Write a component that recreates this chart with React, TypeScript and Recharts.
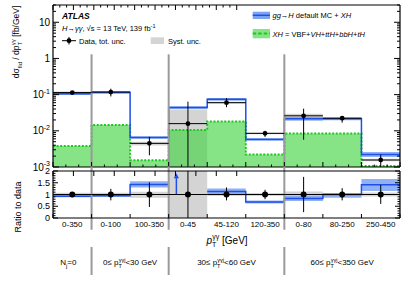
import { ComposedChart, Line, Area, Scatter, ErrorBar, XAxis, YAxis, ReferenceLine } from 'recharts'

const FONT = '"Liberation Sans", Arial, Helvetica, sans-serif'
const BLUE = '#1f4fe6'
const BLUE_BAND = '#7ea3f5'
const GREEN_FILL = 'rgba(60, 210, 60, 0.62)'
const GREEN_LINE = '#1ec81e'
const GREY = '#d4d4d4'
const SEP = '#9a9a9a'

// bins of pT(yy), grouped by jet category
const BIN_LABELS = ['0-350', '0-100', '100-350', '0-45', '45-120', '120-350', '0-80', '80-250', '250-450']
const GROUP_EDGES = [1, 3, 6]
const GROUP_CENTERS = [0.5, 2, 4.5, 7.5]
const GROUP_LOW = ['0', '30', '60']
const GROUP_HIGH = ['30', '60', '350']

// top panel [fb/GeV]
const DATA_XS = [0.114, 0.118, 0.0045, 0.0158, 0.06, 0.0085, 0.026, 0.0223, 0.00156]
const DATA_LO = [0.105, 0.089, 0.0021, 0.00101, 0.045, 0.0068, 0.0057, 0.0168, 0.00101]
const DATA_HI = [0.124, 0.146, 0.0068, 0.064, 0.08, 0.01, 0.041, 0.0257, 0.0022]
const SYST_LO = [0.106, 0.11, 0.0039, 0.001, 0.056, 0.008, 0.0224, 0.0212, 0.00144]
const SYST_HI = [0.122, 0.126, 0.005, 0.039, 0.064, 0.009, 0.0294, 0.0234, 0.00168]
const MC_XS = [0.105, 0.114, 0.0065, 0.044, 0.074, 0.0058, 0.0214, 0.0214, 0.0022]
const MC_LO = [0.098, 0.107, 0.006, 0.04, 0.068, 0.0054, 0.019, 0.0195, 0.0019]
const MC_HI = [0.112, 0.121, 0.0071, 0.048, 0.081, 0.0063, 0.024, 0.0232, 0.0026]
const XH_XS = [0.0038, 0.0145, 0.00153, 0.0105, 0.018, 0.0022, 0.0084, 0.0084, 0.00107]

// ratio panel (MC / data); bin 4 is off scale (~2.8)
const R_MC = [0.93, 0.95, 1.43, null, 1.13, 0.68, 0.83, 1.0, 1.41]
const R_MC_LO = [0.88, 0.9, 1.3, null, 1.0, 0.62, 0.72, 0.86, 1.15]
const R_MC_HI = [0.98, 1.0, 1.56, null, 1.26, 0.74, 0.95, 1.06, 1.66]
const R_SYST_LO = [0.93, 0.93, 0.86, 0, 0.94, 0.94, 0.87, 0.95, 0.92]
const R_SYST_HI = [1.07, 1.07, 1.12, 2, 1.06, 1.06, 1.13, 1.05, 1.08]
const R_TOT_LO = [0.92, 0.75, 0.47, 0, 0.75, 0.8, 0.25, 0.75, 0.6]
const R_TOT_HI = [1.08, 1.24, 1.52, 2, 1.3, 1.2, 1.75, 1.27, 1.41]
const ARROW_X = 3.2
const ARROW_TOP = 1.9

const Y_MIN = 0.001
const Y_MAX = 30
const SEP_TOP = 1.3

const LOG_TICKS: number[] = []
for (let e = -3; e <= 1; e++) for (let m = 1; m <= 9; m++) if (m * 10 ** e <= Y_MAX) LOG_TICKS.push(m * 10 ** e)
const X_MINOR_TICKS = Array.from({ length: 28 }, (_, k) => k / 3)
const X_EDGE_TICKS = Array.from({ length: 10 }, (_, k) => k)
const X_RATIO_TICKS = [...X_EDGE_TICKS, ...BIN_LABELS.map((_, i) => i + 0.5)]
const R_TICKS = Array.from({ length: 21 }, (_, k) => k / 10)

const topRows = BIN_LABELS.flatMap((_, i) =>
  [i, i + 1].map((x) => ({
    x,
    mc: MC_XS[i],
    mcBand: [MC_LO[i], MC_HI[i]],
    xh: XH_XS[i],
    syst: [SYST_LO[i], SYST_HI[i]],
  }))
)
const topPoints = BIN_LABELS.map((_, i) => ({
  x: i + 0.5,
  y: DATA_XS[i],
  ex: 0.5,
  ey: [DATA_XS[i] - DATA_LO[i], DATA_HI[i] - DATA_XS[i]],
}))
const ratioRows = BIN_LABELS.flatMap((_, i) =>
  [i, i + 1].map((x) => ({
    x,
    rmc: R_MC[i],
    rBand: R_MC[i] == null ? [null, null] : [R_MC_LO[i], R_MC_HI[i]],
    rSyst: [R_SYST_LO[i], R_SYST_HI[i]],
  }))
)
const ratioPoints = BIN_LABELS.map((_, i) => ({
  x: i + 0.5,
  y: 1,
  ex: 0.5,
  ey: [1 - R_TOT_LO[i], R_TOT_HI[i] - 1],
}))

const isInt = (v: number) => Math.abs(v - Math.round(v)) < 1e-6
const frame = { stroke: '#000', strokeWidth: 1.2 }

function XTick({ x, y, payload, dir }: any) {
  const len = isInt(payload.value) ? 5 : 2.5
  return <line x1={x} x2={x} y1={y} y2={y + dir * len} stroke="#000" />
}

function LogTick({ x, y, payload, side }: any) {
  const e = Math.log10(payload.value)
  const major = isInt(e)
  const exp = Math.round(e)
  const dx = side === 'left' ? 1 : -1
  return (
    <g>
      <line x1={x} x2={x + dx * (major ? 6 : 3)} y1={y} y2={y} stroke="#000" />
      {major && side === 'left' && (
        <text x={x - 3} y={y + 3.5} textAnchor="end" fontSize={10} fill="#000">
          {exp === 0 ? '1' : exp === 1 ? '10' : (
            <>
              10<tspan dy={-4.5} fontSize={7}>{exp}</tspan>
            </>
          )}
        </text>
      )}
    </g>
  )
}

function RatioYTick({ x, y, payload, side }: any) {
  const v = payload.value
  const major = isInt(v * 2)
  const dx = side === 'left' ? 1 : -1
  return (
    <g>
      <line x1={x} x2={x + dx * (major ? 5 : 2.5)} y1={y} y2={y} stroke="#000" />
      {major && side === 'left' && (
        <text x={x - 3} y={y + 3.2} textAnchor="end" fontSize={9} fill="#000">
          {String(v)}
        </text>
      )}
    </g>
  )
}

function RatioXTick({ x, y, payload }: any) {
  const v = payload.value
  if (isInt(v)) return <line x1={x} x2={x} y1={y} y2={y - 4} stroke="#000" />
  return (
    <text x={x} y={y + 9} textAnchor="middle" fontSize={8} fill="#000">
      {BIN_LABELS[Math.floor(v)]}
    </text>
  )
}

function GroupTick({ x, y, index }: any) {
  if (index === 0) {
    return (
      <text x={x - 4} y={y - 10} textAnchor="middle" fontSize={8} fill="#000">
        N<tspan dy={2.5} fontSize={6}>j</tspan>
        <tspan dy={-2.5}>=0</tspan>
      </text>
    )
  }
  return (
    <text x={x} y={y - 10} textAnchor="middle" fontSize={8} fill="#000">
      {GROUP_LOW[index - 1]}≤ p<tspan dy={2.5} fontSize={5.5}>T</tspan>
      <tspan dx={-3.2} dy={-6} fontSize={5.5}>γγj</tspan>
      <tspan dy={3.5}>{'<' + GROUP_HIGH[index - 1] + ' GeV'}</tspan>
    </text>
  )
}

function ArrowShape({ x1, y1, x2, y2 }: any) {
  return (
    <g>
      <line x1={x1} y1={y1} x2={x2} y2={y2 + 4} stroke={BLUE} strokeWidth={1.5} />
      <path d={`M${x2 - 2.6},${y2 + 5} L${x2},${y2} L${x2 + 2.6},${y2 + 5} Z`} fill={BLUE} />
    </g>
  )
}

const Dot = (r: number) => (p: any) => <circle cx={p.cx} cy={p.cy} r={r} fill="#000" />

// shared props for the thin frame axes (height/width 1 so they still render)
const edgeAxis = { type: 'number' as const, allowDataOverflow: true, interval: 0, tickSize: 0, tickMargin: 0, tickLine: false }

export default function App() {
  return (
    <div style={{ position: 'absolute', left: 0, top: 0, width: 415, height: 281, background: '#fff', fontFamily: FONT }}>
      <div style={{ position: 'absolute', left: 0, top: 0 }}>
        <ComposedChart width={415} height={172} data={topRows} margin={{ top: 4, right: 14, bottom: 4, left: 0 }}>
          <XAxis {...edgeAxis} dataKey="x" domain={[0, 9]} height={1} ticks={X_MINOR_TICKS} axisLine={frame}
            tick={(p: any) => <XTick {...p} dir={-1} />} />
          <XAxis {...edgeAxis} xAxisId="top" orientation="top" domain={[0, 9]} height={1} ticks={X_MINOR_TICKS} axisLine={frame}
            tick={(p: any) => <XTick {...p} dir={1} />} />
          <YAxis {...edgeAxis} scale="log" domain={[Y_MIN, Y_MAX]} width={53} ticks={LOG_TICKS} axisLine={frame}
            tick={(p: any) => <LogTick {...p} side="left" />} />
          <YAxis {...edgeAxis} yAxisId="r" orientation="right" scale="log" domain={[Y_MIN, Y_MAX]} width={1} ticks={LOG_TICKS}
            axisLine={frame} tick={(p: any) => <LogTick {...p} side="right" />} />
          <Area dataKey="syst" type="linear" fill={GREY} fillOpacity={1} stroke="none" isAnimationActive={false} />
          <Area dataKey="xh" type="linear" baseValue={Y_MIN} fill={GREEN_FILL} fillOpacity={1} stroke={GREEN_LINE}
            strokeWidth={2} strokeDasharray="2 1.6" isAnimationActive={false} />
          <Area dataKey="mcBand" type="linear" fill={BLUE_BAND} fillOpacity={0.85} stroke="none" isAnimationActive={false} />
          <Line dataKey="mc" type="linear" stroke={BLUE} strokeWidth={1.5} dot={false} isAnimationActive={false} />
          {GROUP_EDGES.map((x) => (
            <ReferenceLine key={x} segment={[{ x, y: SEP_TOP }, { x, y: Y_MIN }]} stroke={SEP} strokeWidth={2} />
          ))}
          <Scatter data={topPoints} dataKey="y" shape={Dot(2.4)} isAnimationActive={false}>
            <ErrorBar dataKey="ex" direction="x" width={0} stroke="#000" strokeWidth={1} />
            <ErrorBar dataKey="ey" direction="y" width={0} stroke="#000" strokeWidth={1} />
          </Scatter>
        </ComposedChart>
      </div>

      <div style={{ position: 'absolute', left: 0, top: 166 }}>
        <ComposedChart width={415} height={66} data={ratioRows} margin={{ top: 4, right: 14, bottom: 13, left: 0 }}>
          <XAxis {...edgeAxis} dataKey="x" domain={[0, 9]} height={1} ticks={X_RATIO_TICKS} axisLine={frame}
            tick={(p: any) => <RatioXTick {...p} />} />
          <XAxis {...edgeAxis} xAxisId="top" orientation="top" domain={[0, 9]} height={1} ticks={X_EDGE_TICKS} axisLine={frame}
            tick={(p: any) => <XTick {...p} dir={1} />} />
          <YAxis {...edgeAxis} domain={[0, 2]} width={53} ticks={R_TICKS} axisLine={frame}
            tick={(p: any) => <RatioYTick {...p} side="left" />} />
          <YAxis {...edgeAxis} yAxisId="r" orientation="right" domain={[0, 2]} width={1} ticks={R_TICKS} axisLine={frame}
            tick={(p: any) => <RatioYTick {...p} side="right" />} />
          <Area dataKey="rSyst" type="linear" fill={GREY} fillOpacity={1} stroke="none" isAnimationActive={false} />
          <Area dataKey="rBand" type="linear" fill={BLUE_BAND} fillOpacity={0.85} stroke="none" isAnimationActive={false} />
          <Line dataKey="rmc" type="linear" stroke={BLUE} strokeWidth={1.5} dot={false} isAnimationActive={false} />
          {GROUP_EDGES.map((x) => (
            <ReferenceLine key={x} segment={[{ x, y: 2.2 }, { x, y: -0.5 }]} ifOverflow="visible" stroke={SEP} strokeWidth={2} />
          ))}
          <ReferenceLine segment={[{ x: ARROW_X, y: 1 }, { x: ARROW_X, y: ARROW_TOP }]} shape={ArrowShape} />
          <Scatter data={ratioPoints} dataKey="y" shape={Dot(3)} isAnimationActive={false}>
            <ErrorBar dataKey="ex" direction="x" width={0} stroke="#000" strokeWidth={1} />
            <ErrorBar dataKey="ey" direction="y" width={0} stroke="#000" strokeWidth={1} />
          </Scatter>
        </ComposedChart>
      </div>

      <div style={{ position: 'absolute', left: 0, top: 240 }}>
        <ComposedChart width={415} height={37} data={ratioRows} margin={{ top: 7, right: 15, bottom: 1, left: 0 }}>
          <XAxis {...edgeAxis} dataKey="x" domain={[0, 9]} height={1} ticks={GROUP_CENTERS} axisLine={false}
            tick={(p: any) => <GroupTick {...p} />} />
          <YAxis type="number" domain={[0, 2]} allowDataOverflow width={53} tick={false} tickLine={false} axisLine={false} />
          <Line dataKey="rmc" stroke="none" dot={false} isAnimationActive={false} />
          {GROUP_EDGES.map((x) => (
            <ReferenceLine key={x} x={x} stroke={SEP} strokeWidth={2} />
          ))}
        </ComposedChart>
      </div>

      <svg width={415} height={281} style={{ position: 'absolute', left: 0, top: 0, pointerEvents: 'none' }} fontFamily={FONT}>
        <text x={62} y={19} fontSize={8.5} fontWeight="bold" fontStyle="italic">ATLAS</text>
        <text x={62} y={31} fontSize={7.5}>
          <tspan fontStyle="italic">H</tspan>→<tspan fontStyle="italic">γγ</tspan>, √s = 13 TeV, 139 fb
          <tspan dy={-3} fontSize={5.5}>-1</tspan>
        </text>
        <line x1={62} x2={76} y1={40.7} y2={40.7} stroke="#000" />
        <line x1={69} x2={69} y1={37} y2={44.5} stroke="#000" />
        <circle cx={69} cy={40.7} r={2.4} fill="#000" />
        <text x={79} y={43.5} fontSize={7.5}>Data, tot. unc.</text>
        <rect x={150.7} y={37.3} width={13.3} height={6.7} fill={GREY} />
        <text x={168} y={43.5} fontSize={7.5}>Syst. unc.</text>

        <rect x={252.7} y={11.7} width={17.3} height={7.3} fill={BLUE_BAND} />
        <line x1={252.7} x2={270} y1={15.3} y2={15.3} stroke={BLUE} strokeWidth={1.5} />
        <text x={272.5} y={18} fontSize={7.5}>
          <tspan fontStyle="italic">gg</tspan>→<tspan fontStyle="italic">H</tspan> default MC + <tspan fontStyle="italic">XH</tspan>
        </text>
        <rect x={252.7} y={29} width={17.3} height={9.3} fill={GREEN_FILL} />
        <line x1={252.7} x2={270} y1={33.6} y2={33.6} stroke={GREEN_LINE} strokeWidth={2} strokeDasharray="3.5 2" />
        <text x={272.5} y={36.5} fontSize={7.5}>
          <tspan fontStyle="italic">XH</tspan> = VBF+<tspan fontStyle="italic">VH</tspan>+<tspan fontStyle="italic">ttH</tspan>+
          <tspan fontStyle="italic">bbH</tspan>+<tspan fontStyle="italic">tH</tspan>
        </text>

        <text transform="translate(19, 42) rotate(-90)" textAnchor="middle" fontSize={8.5}>
          dσ<tspan dy={2.5} fontSize={6}>fid</tspan>
          <tspan dy={-2.5}> / dp</tspan>
          <tspan dy={2.5} fontSize={6}>T</tspan>
          <tspan dx={-3.4} dy={-7} fontSize={6}>γγ</tspan>
          <tspan dy={4.5}> [fb/GeV]</tspan>
        </text>
        <text transform="translate(21, 207) rotate(-90)" textAnchor="middle" fontSize={9}>Ratio to data</text>
        <text x={227} y={244} textAnchor="middle" fontSize={10}>
          <tspan fontStyle="italic">p</tspan>
          <tspan dy={3} fontSize={7}>T</tspan>
          <tspan dx={-4} dy={-8.5} fontSize={7}>γγ</tspan>
          <tspan dy={5.5}>{'  [GeV]'}</tspan>
        </text>
      </svg>
    </div>
  )
}
